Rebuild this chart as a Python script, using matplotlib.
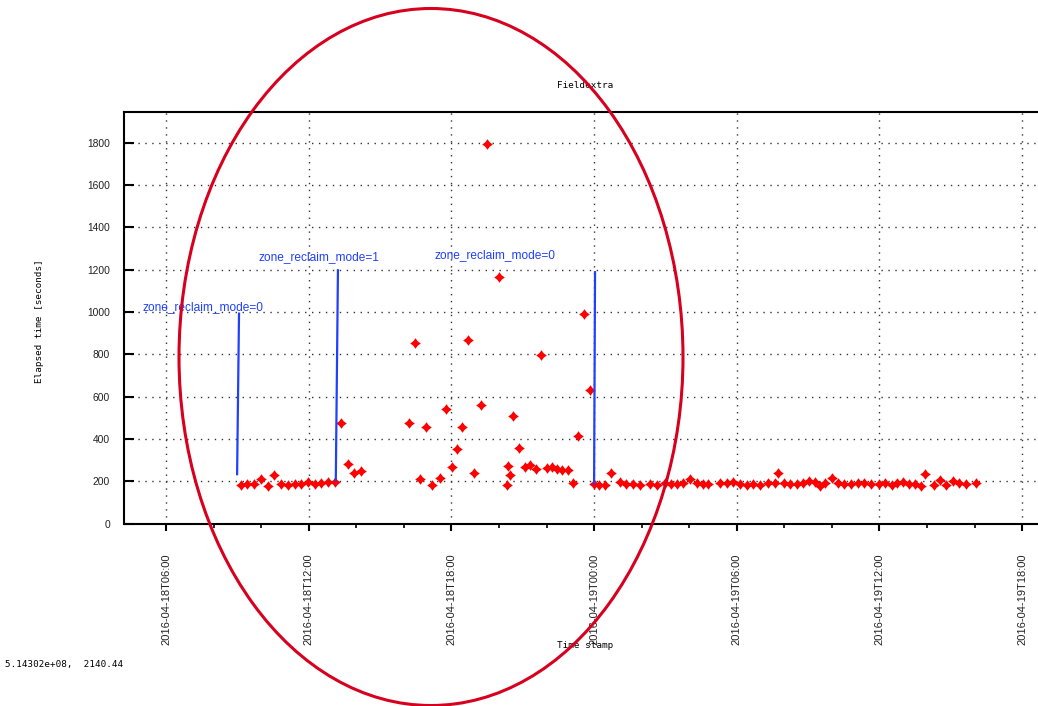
import numpy as np
import pandas as pd
import matplotlib
matplotlib.use("Agg")
import matplotlib.pyplot as plt
import matplotlib.dates as mdates
from matplotlib.patches import Ellipse
from matplotlib.path import Path

# ---- data (x = hours since 2016-04-18T00:00, y = elapsed seconds) ----
hours = [
    9.14, 9.42, 9.70, 9.98, 10.29, 10.54, 10.85, 11.13, 11.41, 11.69, 11.97,
    12.25, 12.53, 12.81, 13.09, 13.37, 13.65, 13.91, 14.21,
    16.22, 16.47, 16.68, 16.92, 17.20, 17.52, 17.76, 18.01, 18.24, 18.43,
    18.71, 18.95, 19.25, 19.49, 20.00, 20.33, 20.39, 20.48, 20.60, 20.84,
    21.10, 21.31, 21.55, 21.77, 22.01, 22.22, 22.44, 22.66, 22.89, 23.13,
    23.34, 23.59, 23.84, 24.01,
    24.22, 24.46, 24.70, 25.09, 25.34, 25.63, 25.93, 26.35, 26.63, 26.98,
    27.22, 27.48, 27.75, 28.03, 28.32, 28.57, 28.80, 29.30, 29.58, 29.83,
    30.14, 30.42, 30.70, 30.98, 31.33, 31.61, 31.72, 32.00, 32.24, 32.52,
    32.80, 33.04, 33.29, 33.50, 33.71, 33.99, 34.27, 34.52, 34.80, 35.09,
    35.36, 35.65,
    35.99, 36.23, 36.52, 36.73, 36.98, 37.26, 37.50, 37.74, 37.92, 38.29,
    38.55, 38.80, 39.08, 39.36, 39.64, 40.06,
]
elapsed = [
    181, 189, 186, 209, 177, 230, 189, 181, 186, 189, 195,
    189, 192, 195, 197, 475, 283, 239, 246,
    475, 855, 211, 456, 182, 213, 539, 265, 352, 456,
    869, 239, 559, 1795, 1165, 182, 274, 227, 510, 359,
    266, 275, 258, 798, 263, 267, 258, 252, 252, 192,
    414, 989, 630, 186,
    181, 181, 239, 197, 189, 186, 184, 189, 181, 192,
    189, 189, 192, 208, 192, 189, 189, 192, 192, 195,
    189, 184, 189, 184, 192, 192, 241, 192, 189, 189,
    192, 201, 197, 176, 192, 217, 192, 189, 189, 192,
    192, 189,
    189, 192, 184, 192, 197, 189, 189, 176, 236, 184,
    205, 181, 200, 192, 189, 192,
]

ann_text = ["zone_reclaim_mode=0", "zone_reclaim_mode=1", "zone_reclaim_mode=0"]
ann_text_x = [5.02, 9.87, 17.29]        # hours
ann_text_y = [1021, 1259, 1267]
line_top_x = [9.07, 13.23, 24.04]
line_top_y = [992, 1197, 1188]
line_bot_x = [8.99, 13.14, 24.00]
line_bot_y = [233, 205, 189]

x_limits_hours = [4.234, 42.96]
y_limits = [0, 1945]

title = "Fieldextra"
xlabel = "Time stamp"
ylabel = "Elapsed time [seconds]"
coord_text = "5.14302e+08,  2140.44"

# ---- helpers ----
base = pd.Timestamp("2016-04-18T00:00")
def to_dt(h):
    return mdates.date2num(base + pd.to_timedelta(np.asarray(h, float), unit="h"))

W, H = 1038, 706
fig = plt.figure(figsize=(W / 100, H / 100), dpi=100)
ax = fig.add_axes([124 / W, (H - 523.5) / H, (1045 - 124) / W, (523.5 - 112) / H])

# custom 4-point diamond-star marker
k = 0.42
verts = [(0, 1), (k, k), (1, 0), (k, -k), (0, -1), (-k, -k), (-1, 0), (-k, k), (0, 1)]
codes = [Path.MOVETO] + [Path.LINETO] * 7 + [Path.CLOSEPOLY]
star = Path(verts, codes)

ax.plot(to_dt(hours), elapsed, linestyle="none", marker=star, markersize=7.6,
        color="#ff0000", markeredgewidth=0, zorder=3)

blue = "#2040ff"
for t, tx, ty, x0, y0, x1, y1 in zip(ann_text, ann_text_x, ann_text_y,
                                      line_top_x, line_top_y, line_bot_x, line_bot_y):
    ax.plot(to_dt([x0, x1]), [y0, y1], color=blue, lw=1.6, zorder=4)
    ax.text(to_dt([tx])[0], ty, t, color=blue, fontsize=8.6,
            family="Liberation Sans", ha="left", va="center", zorder=5)

ax.set_xlim(to_dt(x_limits_hours))
ax.set_ylim(*y_limits)
ax.set_yticks(range(0, 1801, 200))

ax.xaxis.set_major_locator(mdates.HourLocator(byhour=[0, 6, 12, 18]))
ax.xaxis.set_minor_locator(mdates.HourLocator(byhour=range(0, 24, 2)))
ax.xaxis.set_major_formatter(mdates.DateFormatter("%Y-%m-%dT%H:%M"))

ax.grid(True, which="major", color="#333333", linestyle=(0, (1, 4)), lw=1.0)
ax.tick_params(axis="y", direction="in", length=7, width=1.5, pad=10,
               labelsize=7.4, labelcolor="#222222")
ax.tick_params(axis="x", which="major", direction="out", length=5, width=1.5,
               pad=16.5, labelsize=8.0, labelcolor="#222222", labelrotation=90)
ax.tick_params(axis="x", which="minor", direction="out", length=3, width=1.2)
for lab in ax.get_xticklabels() + ax.get_yticklabels():
    lab.set_family("Liberation Sans")
for lab in ax.get_xticklabels():
    lab.set_va("top")
    lab.set_ha("center")

for s in ["left", "top", "bottom"]:
    ax.spines[s].set_linewidth(1.5)
ax.spines["right"].set_visible(False)

mono = "DejaVu Sans Mono"
fig.text(585 / W, 1 - 86 / H, title, ha="center", va="center", fontsize=6.7, family=mono)
fig.text(585 / W, 1 - 645 / H, xlabel, ha="center", va="center", fontsize=6.7, family=mono)
fig.text(39 / W, 1 - 321 / H, ylabel, ha="center", va="center", rotation=90,
         fontsize=6.7, family=mono)
fig.text(5 / W, 1 - 664 / H, coord_text, ha="left", va="center", fontsize=6.7, family=mono)

ell = Ellipse((431 / W, 1 - 357 / H), 504 / W, 697 / H, transform=fig.transFigure,
              fill=False, edgecolor="#d7001e", lw=2.2, zorder=10)
fig.patches.append(ell)

fig.savefig("out.png", dpi=100)
